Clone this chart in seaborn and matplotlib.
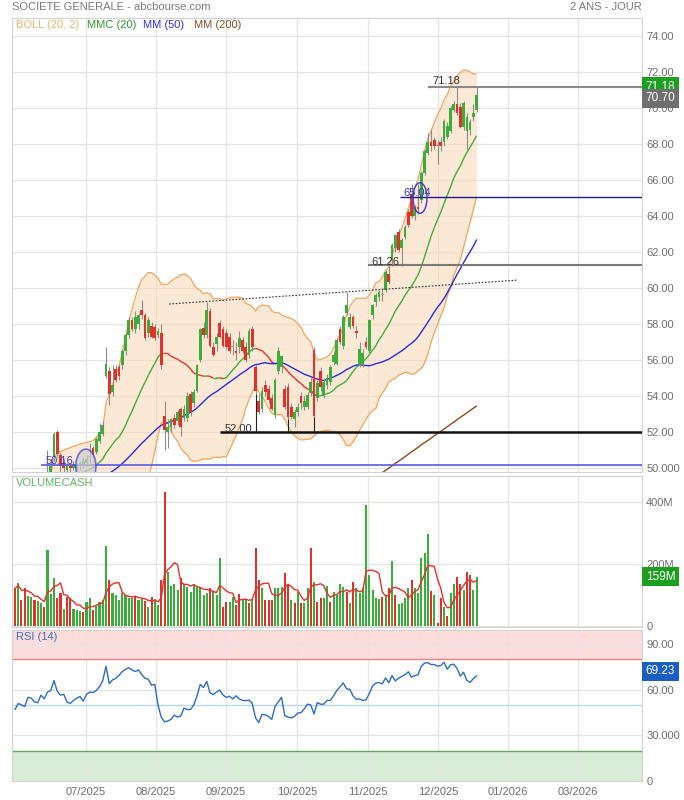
import numpy as np
import pandas as pd
import matplotlib
matplotlib.use("Agg")
import matplotlib.pyplot as plt
from matplotlib.collections import LineCollection
from matplotlib.patches import Ellipse
import matplotlib.transforms as mtransforms
import seaborn as sns

# Daily sessions, one per trading day (June -> mid December 2025), prices in EUR
opens = [48.9, 48.7, 48.9, 48.6, 48.8, 49.0, 48.9, 48.7, 48.9, 49.1,
         49.3, 49.7, 50.6, 52.0, 50.7, 50.3, 49.9, 50.1, 50.0, 50.0,
         50.1, 50.2, 50.3, 50.6, 51.1, 50.9, 51.5, 51.9, 55.1, 55.4,
         54.2, 55.5, 55.6, 55.7, 56.5, 57.4, 58.2, 57.7, 58.0, 58.8,
         58.5, 57.5, 57.9, 57.85, 57.4, 57.5, 52.9, 52.0, 52.3, 52.8,
         52.6, 53.3, 52.8, 52.8, 54.1, 53.6, 54.3, 56.0, 57.8, 57.4,
         58.7, 56.7, 56.9, 58.05, 57.7, 57.5, 57.3, 56.7, 56.5, 56.7,
         57.1, 56.7, 56.3, 57.7, 55.6, 53.7, 53.3, 54.6, 54.4, 53.9,
         52.95, 55.4, 55.6, 54.4, 54.5, 53.4, 52.75, 53.1, 54.0, 53.4,
         53.4, 54.15, 56.55, 53.9, 55.4, 54.0, 54.6, 54.8, 55.9, 55.8,
         57.7, 56.8, 58.6, 57.85, 58.4, 57.6, 55.7, 55.8, 57.0, 56.5,
         58.5, 59.2, 59.5, 59.6, 59.9, 60.8, 61.55, 62.2, 63.1, 62.2,
         62.85, 64.2, 65.2, 64.0, 64.5, 64.9, 66.4, 67.5, 68.1, 68.2,
         67.9, 68.1, 68.1, 68.4, 68.7, 69.9, 70.2, 70.05, 68.95, 68.7,
         68.8, 69.5, 69.9]
highs = [49.2, 49.1, 49.0, 49.0, 49.3, 49.2, 49.1, 49.1, 49.3, 49.5,
         51.0, 50.5, 52.0, 52.1, 50.9, 50.5, 50.3, 50.3, 50.4, 50.3,
         50.4, 50.6, 50.7, 51.4, 51.2, 51.7, 52.5, 52.6, 56.7, 55.6,
         55.7, 55.7, 55.8, 56.6, 57.5, 58.4, 58.4, 58.7, 58.6, 59.35,
         58.6, 58.4, 58.1, 58.0, 57.8, 58.0, 53.7, 52.7, 52.8, 53.0,
         53.2, 53.4, 53.5, 54.2, 54.3, 54.4, 55.8, 57.8, 58.1, 59.25,
         58.9, 57.0, 57.5, 58.2, 57.9, 57.7, 57.5, 57.1, 57.0, 57.6,
         57.3, 57.0, 57.8, 57.9, 55.7, 54.1, 54.5, 54.9, 54.6, 54.1,
         55.0, 56.7, 56.3, 54.6, 54.7, 53.6, 53.3, 53.6, 54.2, 54.0,
         54.2, 55.0, 56.7, 54.9, 55.6, 55.0, 55.2, 55.7, 56.5, 57.2,
         57.9, 58.5, 59.8, 58.6, 58.5, 57.9, 57.0, 56.6, 57.3, 58.3,
         59.1, 59.7, 59.9, 60.0, 61.0, 61.26, 62.5, 63.0, 63.3, 62.8,
         63.5, 64.4, 65.8, 64.6, 65.8, 66.5, 67.7, 68.6, 68.8, 68.4,
         68.2, 68.4, 69.4, 69.2, 70.1, 70.4, 71.18, 70.3, 70.4, 69.7,
         69.4, 70.2, 71.18]
lows = [48.5, 48.5, 48.4, 48.4, 48.7, 48.7, 48.5, 48.6, 48.8, 49.0,
        49.2, 49.6, 50.4, 50.6, 49.7, 49.8, 49.7, 49.8, 49.9, 49.8,
        49.9, 50.0, 50.1, 50.3, 50.6, 50.8, 51.4, 51.8, 55.0, 53.5,
        54.0, 54.8, 54.9, 55.5, 56.3, 57.2, 57.6, 57.5, 57.7, 58.3,
        57.1, 57.3, 57.2, 57.1, 57.2, 55.5, 51.0, 51.1, 52.0, 52.2,
        52.4, 51.8, 52.6, 52.6, 52.9, 53.4, 54.2, 55.9, 57.2, 57.2,
        56.7, 56.2, 56.5, 57.2, 56.7, 56.6, 56.4, 56.3, 56.0, 56.4,
        56.4, 55.9, 56.1, 56.5, 54.1, 53.0, 53.1, 54.0, 53.6, 53.2,
        52.8, 55.2, 55.3, 53.3, 52.7, 52.7, 52.3, 52.9, 53.3, 53.2,
        53.3, 54.0, 52.85, 53.7, 54.3, 53.9, 54.4, 54.6, 55.7, 55.7,
        56.9, 56.6, 58.5, 57.7, 57.8, 57.2, 55.6, 55.6, 56.6, 56.4,
        58.3, 59.0, 59.3, 59.3, 59.8, 60.2, 61.2, 62.0, 62.0, 61.2,
        62.7, 63.4, 63.9, 63.8, 64.1, 64.7, 66.3, 67.4, 67.6, 67.7,
        66.9, 67.6, 67.9, 68.3, 68.6, 69.8, 69.6, 68.9, 68.8, 67.7,
        68.5, 69.3, 69.8]
closes = [48.7, 48.9, 48.6, 48.8, 49.0, 48.9, 48.7, 48.9, 49.1, 49.3,
          49.6, 50.1, 51.9, 50.8, 50.1, 50.0, 50.1, 50.0, 50.2, 50.2,
          50.3, 50.4, 50.5, 50.6, 50.7, 51.6, 52.0, 52.4, 55.8, 54.1,
          54.6, 54.9, 55.1, 56.5, 57.4, 58.2, 57.7, 58.4, 58.5, 58.5,
          57.2, 58.2, 57.3, 57.2, 57.6, 55.7, 52.1, 52.3, 52.7, 52.4,
          53.1, 52.3, 53.3, 54.0, 53.1, 54.2, 55.7, 57.7, 57.4, 58.8,
          56.8, 56.3, 57.3, 57.3, 56.8, 56.7, 56.5, 56.7, 56.4, 57.2,
          56.5, 56.0, 57.6, 56.7, 54.3, 53.1, 54.3, 54.2, 53.8, 53.3,
          54.9, 56.5, 56.2, 53.4, 52.85, 52.85, 53.1, 53.4, 53.6, 53.7,
          54.05, 54.8, 52.9, 54.7, 54.5, 54.8, 55.0, 55.6, 56.3, 57.1,
          57.0, 58.4, 59.05, 58.4, 57.9, 57.5, 56.6, 56.4, 56.7, 58.2,
          59.05, 59.6, 59.8, 59.65, 60.9, 60.35, 62.4, 62.95, 62.1, 62.65,
          63.4, 63.5, 64.0, 64.5, 64.4, 66.4, 67.6, 68.1, 67.9, 67.9,
          67.95, 67.9, 69.3, 69.0, 70.0, 70.25, 69.7, 68.95, 70.3, 69.5,
          69.2, 69.7, 70.7]

# closes of the sessions before the window (only used to start the averages)
prior_closes = [45.2, 45.6, 45.4, 45.9, 46.3, 46.0, 46.4, 46.8, 46.5, 46.9,
                47.2, 47.0, 47.3, 47.6, 47.4, 47.7, 47.9, 47.6, 47.8, 48.1,
                47.9, 48.2, 48.4, 48.1, 48.3, 48.6, 48.4, 48.2, 48.5, 48.7,
                48.5, 48.3, 48.6, 48.8, 48.6, 48.9, 48.7, 48.5, 48.8, 49.0,
                48.8, 48.6, 48.9, 49.1, 48.9, 48.7, 48.9, 49.0, 48.8]

# traded capital, millions EUR, with the colour of each bar (g = up, r = down)
volumes = [121, 139, 84, 121, 97, 95, 84, 82, 73, 62,
           245, 103, 154, 89, 105, 54, 94, 89, 54, 51,
           49, 46, 78, 89, 51, 68, 78, 84, 258, 148,
           107, 100, 84, 105, 100, 89, 89, 97, 84, 89,
           82, 60, 94, 86, 68, 148, 432, 175, 129, 136,
           116, 154, 137, 127, 110, 137, 125, 121, 100,
           107, 121, 110, 100, 218, 62, 78, 78, 94, 68,
           103, 84, 86, 73, 84, 252, 148, 121, 84, 84,
           84, 121, 121, 125, 170, 137, 84, 73, 110,
           73, 73, 121, 250, 143, 78, 89, 89, 129, 78, 110, 100, 137,
           127, 110, 75, 143, 121, 105, 121, 390, 164, 116,
           89, 86, 94, 100, 121, 210, 100, 71, 75, 89,
           121, 148, 121, 107, 218, 234, 295, 114, 100, 11,
           89, 62, 33, 105, 136, 159, 136, 116, 175, 164,
           116, 159]
vol_dir = ("rgrrggrggr" "gggrrgrrgg" "grggrggggr" "gggggggrgg" "rgrggrrggg"
           "grggggggg" "grgggrrggr" "rggrgrrgrr" "rgggrrgrg" "rggrgrrggrggg"
           "grgrgggggg" "ggrgrgrggg" "grgggggrgr" "rgrggrrgrr" "gg")

rsi = [47, 51, 50, 49, 55, 54.5, 52, 51.5, 56.5, 54,
       58.5, 59.5, 66, 59, 56.5, 57, 52, 51, 53, 54.5,
       55.5, 52.5, 57, 58.5, 58.2, 59.5, 62, 66, 75.5, 64,
       66.5, 67.5, 69.5, 72, 73.5, 74.5, 73, 72, 73, 70,
       67.5, 67, 63, 63.5, 50, 42, 38.9, 39.5, 40.5, 43.3,
       42, 42.8, 48, 47, 47, 50, 56, 63.5, 61.5, 65.5,
       58, 56.8, 58.5, 59.8, 56.5, 55, 55.7, 54, 56, 54,
       53, 52.8, 53.2, 51, 41.5, 38.5, 43.8, 43.5, 42.5, 40.5,
       49, 52, 55, 43, 42, 41.5, 42.5, 44.6, 45, 47.5,
       50.5, 50, 44, 51.5, 50.5, 50.5, 53, 53, 56, 59.5,
       62, 64.5, 60.6, 60.3, 56, 53.7, 54, 52.9, 53.4, 57.5,
       62.5, 64.4, 64.7, 63.9, 67.8, 64.6, 69.4, 65.8, 67.5, 68.8,
       69.9, 71.8, 68.3, 69.3, 69.9, 75.5, 77.5, 77.8, 76.6, 76.6,
       75.5, 75.9, 78, 73.5, 76.5, 76.8, 74, 69, 71.5, 66.2,
       64.8, 67.3, 69.23]

# MM(200) for the last sessions (below the window before)
mm200_first = 112
mm200 = [49.62, 49.74, 49.87, 50.0, 50.12, 50.26, 50.38, 50.51, 50.63, 50.77,
         50.9, 51.02, 51.15, 51.29, 51.41, 51.53, 51.66, 51.8, 51.92, 52.04,
         52.17, 52.3, 52.43, 52.55, 52.69, 52.81, 52.94, 53.06, 53.19, 53.32,
         53.45]

month_labels = ["07/2025", "08/2025", "09/2025", "10/2025", "11/2025",
                "12/2025", "01/2026", "03/2026"]
month_pos = [21.8, 43.4, 64.9, 86.8, 108.6, 130.2, 151.7, 173.2]

# drawn levels: (value, first session, colour, width)
levels = [(71.18, 127.0, "#8a8a8a", 1.5), (65.04, 118.3, "#1c1c8f", 1.0),
          (61.26, 108.5, "#7a7a7a", 1.5), (52.00, 63.1, "#111111", 1.8),
          (50.16, 8.0, "#5a5ae0", 1.2)]
support_touches = [74, 84, 92]

# ---------------------------------------------------------------- indicators
n_prior = len(prior_closes)
full = pd.Series(prior_closes + closes)
sma20 = full.rolling(20).mean().iloc[n_prior:].to_numpy()
sd20 = full.rolling(20).std(ddof=0).iloc[n_prior:].to_numpy()
upper = sma20 + 2 * sd20
lower = sma20 - 2 * sd20
mm50 = full.rolling(50).mean().iloc[n_prior:].to_numpy()
vol_ma = pd.Series(volumes, dtype=float).rolling(5, min_periods=1).mean().to_numpy()

o = np.array(opens); h = np.array(highs); l = np.array(lows); c = np.array(closes)
idx = np.arange(len(closes))

GREEN = "#3aad3a"
RED = "#e2312b"
GREY_TXT = "#6e6e6e"
GRID = "#e4e4e4"

sns.set_theme(style="white")
plt.rcParams["font.family"] = ["Liberation Sans", "DejaVu Sans"]

W, H = 684, 800
fig = plt.figure(figsize=(W / 100, H / 100), dpi=100)
left, width = 12 / W, 630 / W
ax_p = fig.add_axes([left, 1 - 472 / H, width, 454 / H])
ax_v = fig.add_axes([left, 1 - 627 / H, width, 151 / H])
ax_r = fig.add_axes([left, 1 - 781 / H, width, 151 / H])

for ax in (ax_p, ax_v, ax_r):
    ax.set_xlim(-0.92, 192.9)
    ax.set_xticks(month_pos)
    ax.grid(True, color=GRID, lw=0.9)
    ax.set_axisbelow(True)
    ax.yaxis.tick_right()
    ax.tick_params(length=0, labelsize=8, labelcolor=GREY_TXT, pad=3)
    for s in ax.spines.values():
        s.set_color("#d2d2d2")
        s.set_linewidth(0.8)
    ax.set_xlabel("")
    ax.set_ylabel("")
ax_p.set_xticklabels([])
ax_v.set_xticklabels([])

# ---------------------------------------------------------------- price panel
ax_p.set_ylim(49.78, 75.0)
pt = np.arange(50, 75, 2)
ax_p.set_yticks(pt)
ax_p.set_yticklabels(["50.000"] + [f"{v:.2f}" for v in pt[1:]])

ax_p.fill_between(idx, lower, upper, color="#fbd5ad", alpha=0.5, lw=0, zorder=1)
sns.lineplot(x=idx, y=upper, ax=ax_p, color="#f2a55c", lw=0.9, zorder=2)
sns.lineplot(x=idx, y=lower, ax=ax_p, color="#f2a55c", lw=0.9, zorder=2)

# MMC(20): green while rising, red while falling
pts = np.column_stack([idx, sma20])
segs = np.stack([pts[:-1], pts[1:]], axis=1)
seg_col = [GREEN if d >= 0 else RED for d in np.diff(sma20)]
ax_p.add_collection(LineCollection(segs, colors=seg_col, lw=1.0, zorder=3))

sns.lineplot(x=idx, y=mm50, ax=ax_p, color="#2b2bd8", lw=1.0, zorder=3)
mm_x = np.arange(mm200_first, mm200_first + len(mm200))
sns.lineplot(x=mm_x, y=mm200, ax=ax_p, color="#8b4a22", lw=1.0, zorder=3)

# candles
body_col = np.where(np.abs(c - o) < 0.06, "#9a9a9a", np.where(c >= o, GREEN, RED))
ax_p.vlines(idx, l, h, color="#8c8c8c", lw=0.8, zorder=4)
body = np.where(np.abs(c - o) < 0.06, 0.06, c - o)
ax_p.bar(idx, body, bottom=o, width=0.8, color=body_col, lw=0, zorder=5)

# drawn levels and annotations
for val, start, col, lw in levels:
    ax_p.hlines(val, start, 192.9, color=col, lw=lw, zorder=6)
ax_p.text(128.3, 71.5, "71.18", fontsize=8, color="#333333", va="center", zorder=7)
ax_p.text(119.6, 65.28, "65.04", fontsize=8, color="#3636c8", va="center", zorder=7)
ax_p.text(109.6, 61.45, "61.26", fontsize=8, color="#333333", va="center", zorder=7)
ax_p.text(64.6, 52.17, "52.00", fontsize=8, color="#333333", va="center", zorder=7)
ax_p.text(9.5, 50.37, "50.16", fontsize=8, color="#3636c8", va="center", zorder=7)
ax_p.vlines(support_touches, 52.0, l[support_touches], color="#222222", lw=0.8, zorder=6)
ax_p.plot([47.4, 154.5], [59.11, 60.44], color="#333333", lw=0.8,
          linestyle=(0, (1.5, 1.5)), zorder=6)
ax_p.add_patch(Ellipse((124.6, 65.0), 4.3, 1.7, fill=False, ec="#3a3ad6", lw=1.0, zorder=7))
ax_p.add_patch(Ellipse((21.8, 50.1), 6.2, 1.9, fc="#cfcfcf", alpha=0.7, ec="#3a3ad6",
                       lw=1.2, zorder=7))

# legend row
leg = [("BOLL (20, 2)", "#f3b06e", 16), ("MMC (20)", "#2f9a2f", 87),
       ("MM (50)", "#3030e0", 143), ("MM (200)", "#8b4a22", 194)]
for txt, col, px in leg:
    ax_p.text((px - 12) / 630, (472 - 25) / 454, txt, transform=ax_p.transAxes,
              fontsize=8, color=col, va="center")

# right side price tags
tr_p = mtransforms.blended_transform_factory(ax_p.transAxes, ax_p.transData)
ax_p.text(1.006, 71.18, "71.18", transform=tr_p, fontsize=8.5, color="white", va="center",
          bbox=dict(boxstyle="square,pad=0.3", fc="#1e9e1e", ec="none"), clip_on=False)
ax_p.text(1.006, 70.55, "70.70", transform=tr_p, fontsize=8.5, color="white", va="center",
          bbox=dict(boxstyle="square,pad=0.3", fc="#6f6f6f", ec="none"), clip_on=False, zorder=8)

# ---------------------------------------------------------------- volume panel
ax_v.set_ylim(-3, 483)
ax_v.set_yticks([0, 200, 400])
ax_v.set_yticklabels(["0", "200M", "400M"])
vcol = [GREEN if d == "g" else RED for d in vol_dir]
ax_v.bar(idx, volumes, width=0.62, color=vcol, lw=0, zorder=2)
sns.lineplot(x=idx, y=vol_ma, ax=ax_v, color="#e8302a", lw=1.0, zorder=3)
ax_v.text(4 / 630, 0.955, "VOLUMECASH", transform=ax_v.transAxes, fontsize=8,
          color="#62b862", va="center")
tr_v = mtransforms.blended_transform_factory(ax_v.transAxes, ax_v.transData)
ax_v.text(1.006, volumes[-1], f"{volumes[-1]}M", transform=tr_v, fontsize=8.5, color="white",
          va="center", bbox=dict(boxstyle="square,pad=0.3", fc="#1e9e1e", ec="none"),
          clip_on=False)

# ---------------------------------------------------------------- RSI panel
ax_r.set_ylim(0.5, 99.3)
ax_r.set_yticks([0, 30, 60, 90])
ax_r.set_yticklabels(["0", "30.000", "60.00", "90.00"])
ax_r.axhspan(80, 100, color="#fddcdc", zorder=0.2, lw=0)
ax_r.axhspan(0, 20, color="#d9ecd8", zorder=0.2, lw=0)
ax_r.axhline(80, color="#e38585", lw=1.0, zorder=1)
ax_r.axhline(20, color="#68a468", lw=1.0, zorder=1)
ax_r.axhline(50, color="#b9d7f2", lw=1.0, zorder=1)
sns.lineplot(x=idx, y=rsi, ax=ax_r, color="#2f6cbf", lw=1.0, zorder=3)
ax_r.text(4 / 630, 0.955, "RSI (14)", transform=ax_r.transAxes, fontsize=8,
          color="#3f6fb5", va="center")
tr_r = mtransforms.blended_transform_factory(ax_r.transAxes, ax_r.transData)
ax_r.text(1.006, rsi[-1] + 3, f"{rsi[-1]:.2f}", transform=tr_r, fontsize=8.5, color="white",
          va="center", bbox=dict(boxstyle="square,pad=0.3", fc="#1c5fc2", ec="none"),
          clip_on=False)
ax_r.set_xticklabels(month_labels)
ax_r.tick_params(axis="x", pad=4)

# ---------------------------------------------------------------- header
fig.text(12 / W, 1 - 7 / H, "SOCIETE GENERALE - abcbourse.com", fontsize=8,
         color="#7a7a7a", va="center")
fig.text(642 / W, 1 - 7 / H, "2 ANS - JOUR", fontsize=8, color="#7a7a7a",
         va="center", ha="right")

fig.savefig("out.png", dpi=100)
